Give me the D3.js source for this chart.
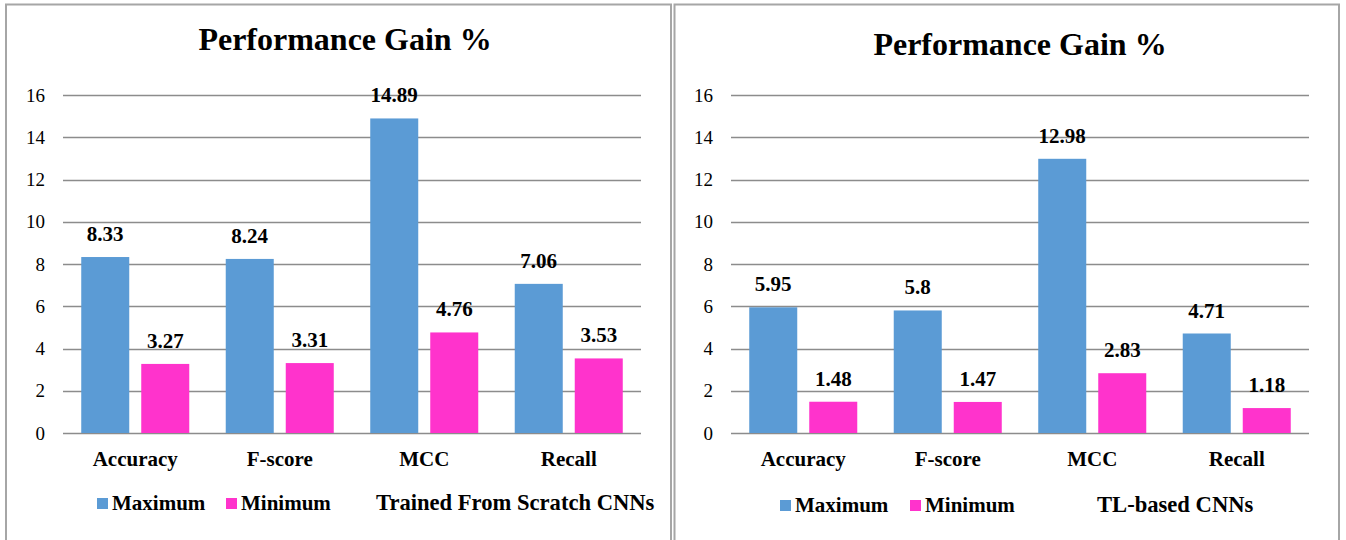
<!DOCTYPE html>
<html>
<head>
<meta charset="utf-8">
<script src="https://cdn.jsdelivr.net/npm/d3@7"></script>
<style>
  html, body { margin: 0; padding: 0; background: #ffffff; }
  svg { display: block; }
</style>
</head>
<body>
<svg id="chart" width="1346" height="540"></svg>
<script>
// Metric categories and series names shared by both panels
const categories = ["Accuracy", "F-score", "MCC", "Recall"];
const seriesNames = ["Maximum", "Minimum"];

// Performance gain (%) for CNNs trained from scratch
const scratchMax = [8.33, 8.24, 14.89, 7.06];
const scratchMin = [3.27, 3.31, 4.76, 3.53];

// Performance gain (%) for transfer-learning based CNNs
const tlMax = [5.95, 5.8, 12.98, 4.71];
const tlMin = [1.48, 1.47, 2.83, 1.18];

// Value axis ticks
const yTicks = [0, 2, 4, 6, 8, 10, 12, 14, 16];

const chartTitle = "Performance Gain %";
const colors = { Maximum: "#5B9BD5", Minimum: "#FF33CC" };
const FONT = "'Liberation Serif', Tinos, 'Times New Roman', Times, serif";

const svg = d3.select("#chart").attr("font-family", FONT);

function drawPanel(cfg) {
  const g = svg.append("g");

  // frame
  g.append("rect")
    .attr("x", cfg.box[0]).attr("y", cfg.box[1])
    .attr("width", cfg.box[2]).attr("height", cfg.box[3])
    .attr("fill", "#ffffff")
    .attr("stroke", "#a6a6a6").attr("stroke-width", 2);

  // title
  g.append("text")
    .attr("x", cfg.titleX).attr("y", cfg.titleY)
    .attr("text-anchor", "middle")
    .attr("font-family", FONT)
    .attr("font-size", 32).attr("font-weight", "bold")
    .text(chartTitle);

  const y = d3.scaleLinear().domain([0, 16]).range([433, 95]);
  const x0 = d3.scaleBand().domain(categories).range(cfg.xRange).padding(0);
  const x1 = d3.scaleBand().domain(seriesNames).range([0, x0.bandwidth()])
    .paddingInner(0.2).paddingOuter(0.304);

  // gridlines
  g.append("g").selectAll("line").data(yTicks).join("line")
    .attr("x1", cfg.xRange[0]).attr("x2", cfg.xRange[1])
    .attr("y1", d => Math.round(y(d)) + 0.5).attr("y2", d => Math.round(y(d)) + 0.5)
    .attr("stroke", "#8c8c8c").attr("stroke-width", 1.3);

  // y axis labels
  const yAxis = d3.axisLeft(y).tickValues(yTicks).tickSize(0).tickPadding(0);
  const ya = g.append("g")
    .attr("transform", `translate(${cfg.xRange[0] - 18},0)`)
    .call(yAxis)
    .attr("font-family", FONT).attr("font-size", 19);
  ya.select(".domain").remove();
  ya.selectAll("text").attr("fill", "#000");

  // bars
  const rows = categories.map((c, i) => ({
    cat: c,
    vals: [{ s: "Maximum", v: cfg.maxVals[i] }, { s: "Minimum", v: cfg.minVals[i] }]
  }));

  const grp = g.append("g").selectAll("g").data(rows).join("g")
    .attr("transform", d => `translate(${x0(d.cat)},0)`);

  grp.selectAll("rect").data(d => d.vals).join("rect")
    .attr("x", d => x1(d.s))
    .attr("width", x1.bandwidth())
    .attr("y", d => y(d.v))
    .attr("height", d => y(0) - y(d.v))
    .attr("fill", d => colors[d.s]);

  grp.selectAll("text").data(d => d.vals).join("text")
    .attr("x", d => x1(d.s) + x1.bandwidth() / 2)
    .attr("y", d => y(d.v) - 16)
    .attr("text-anchor", "middle")
    .attr("font-family", FONT)
    .attr("font-size", 21).attr("font-weight", "bold")
    .text(d => String(d.v));

  // category axis
  const xAxis = d3.axisBottom(x0).tickSize(0).tickPadding(0);
  const xa = g.append("g").attr("transform", "translate(0,449)").call(xAxis)
    .attr("font-family", FONT).attr("font-size", 21).attr("font-weight", "bold");
  xa.select(".domain").remove();
  xa.selectAll("text").attr("dy", "0.8em").attr("fill", "#000");

  // legend
  const lg = g.append("g").attr("font-family", FONT)
    .attr("font-size", 21).attr("font-weight", "bold");
  seriesNames.forEach((s, i) => {
    lg.append("rect")
      .attr("x", cfg.legendX[i]).attr("y", cfg.legendY - 12)
      .attr("width", 11).attr("height", 11)
      .attr("fill", colors[s]);
    lg.append("text")
      .attr("x", cfg.legendX[i] + 15).attr("y", cfg.legendY)
      .text(s);
  });
  lg.append("text")
    .attr("x", cfg.noteX).attr("y", cfg.legendY)
    .attr("font-size", 22.6)
    .text(cfg.note);
}

drawPanel({
  box: [6, 4.5, 665, 560],
  titleX: 345, titleY: 50,
  xRange: [63, 641],
  maxVals: scratchMax, minVals: scratchMin,
  legendX: [97, 226], legendY: 510,
  noteX: 376, note: "Trained From Scratch CNNs"
});

drawPanel({
  box: [674.5, 4.5, 664.5, 560],
  titleX: 1020, titleY: 55,
  xRange: [731, 1309],
  maxVals: tlMax, minVals: tlMin,
  legendX: [780, 910], legendY: 512,
  noteX: 1097, note: "TL-based CNNs"
});
</script>
</body>
</html>
